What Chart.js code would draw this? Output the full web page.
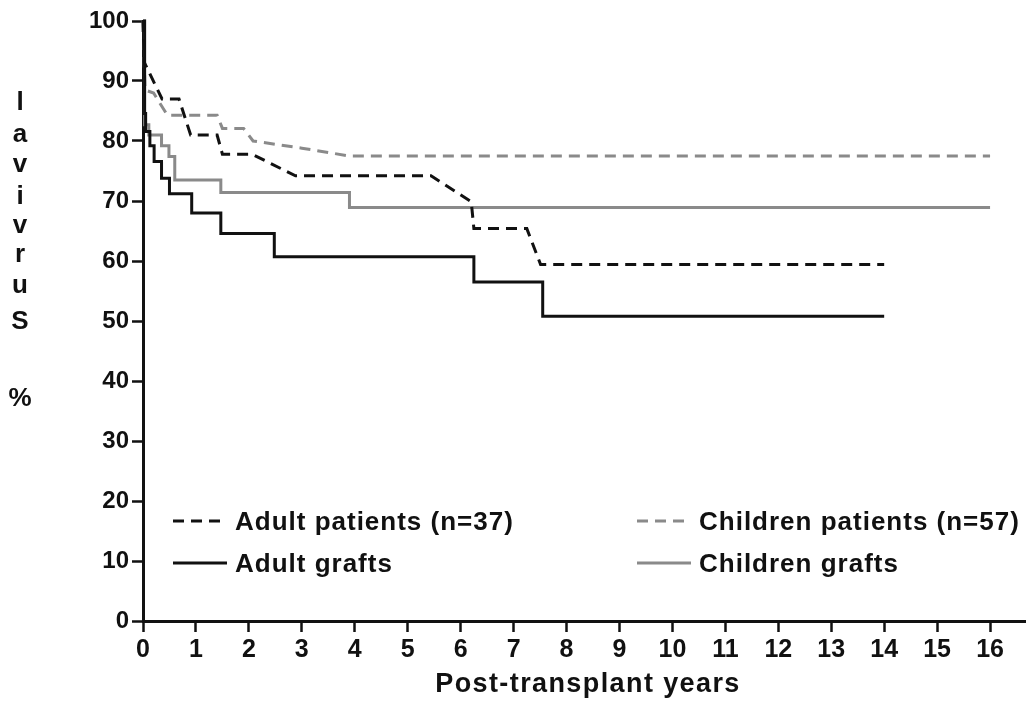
<!DOCTYPE html>
<html>
<head>
<meta charset="utf-8">
<script src="https://cdn.jsdelivr.net/npm/chart.js@4.4.1/dist/chart.umd.min.js"></script>
<style>
  html, body { margin: 0; padding: 0; background: #fff; }
  #wrap { width: 1029px; height: 715px; }
</style>
</head>
<body>
<div id="wrap"><canvas id="km"></canvas></div>
<script>
// Kaplan-Meier survival
var adultPatientsYears = [0, 0.02, 0.36, 0.68, 0.9, 1.4, 1.5, 2.06, 2.88, 5.44, 6.2, 6.25, 7.25, 7.51, 14.0];
var adultPatientsSurv  = [100, 93.2, 87, 87, 81, 81, 77.8, 77.8, 74.2, 74.2, 69.9, 65.4, 65.4, 59.4, 59.4];

var childPatientsYears = [0, 0.04, 0.2, 0.46, 1.4, 1.5, 1.9, 2.08, 3.0, 3.9, 16];
var childPatientsSurv  = [100, 88.5, 88, 84.3, 84.3, 82.1, 82.1, 80, 78.8, 77.5, 77.5];

var adultGraftsYears = [0, 0.03, 0.05, 0.13, 0.21, 0.35, 0.5, 0.92, 1.47, 2.48, 6.25, 7.55, 14.0];
var adultGraftsSurv  = [100, 84.6, 81.6, 79.2, 76.6, 73.8, 71.2, 68, 64.6, 60.7, 56.5, 50.8, 50.8];

var childGraftsYears = [0, 0.03, 0.11, 0.35, 0.49, 0.6, 1.47, 3.9, 16];
var childGraftsSurv  = [100, 82.7, 81, 79.2, 77.4, 73.5, 71.4, 68.9, 68.9];

var xTicks = [0, 1, 2, 3, 4, 5, 6, 7, 8, 9, 10, 11, 12, 13, 14, 15, 16];
var yTicks = [0, 10, 20, 30, 40, 50, 60, 70, 80, 90, 100];

var legendLabels = ["Adult patients (n=37)", "Children patients (n=57)", "Adult grafts", "Children grafts"];
var yTitleLetters = ["l", "a", "v", "i", "v", "r", "u", "S"];
var yTitleUnit = "%";
var xTitle = "Post-transplant years";

var BLACK = "#111111";
var GREY = "#8a8a8a";

function pts(xs, ys) {
    return xs.map(function (x, i) { return { x: x, y: ys[i] }; });
}

var FONT = "'Liberation Sans', Arial, sans-serif";

// legend, stacked y title and x title, drawn on the canvas
var decorations = {
    id: 'decorations',
    afterDraw: function (chart) {
        var ctx = chart.ctx;
        var a = chart.chartArea;
        ctx.save();
        ctx.fillStyle = BLACK;
        ctx.font = "bold 26px " + FONT;
        ctx.textBaseline = "alphabetic";

        // legend
        var items = [
            { label: legendLabels[0], color: BLACK, dash: [11, 7], x: 173, y: 521 },
            { label: legendLabels[1], color: GREY, dash: [11, 7], x: 637, y: 521 },
            { label: legendLabels[2], color: BLACK, dash: [], x: 173, y: 563 },
            { label: legendLabels[3], color: GREY, dash: [], x: 637, y: 563 }
        ];
        items.forEach(function (it) {
            ctx.save();
            ctx.strokeStyle = it.color;
            ctx.lineWidth = 3;
            ctx.setLineDash(it.dash);
            ctx.beginPath();
            ctx.moveTo(it.x, it.y);
            ctx.lineTo(it.x + 54, it.y);
            ctx.stroke();
            ctx.restore();
            ctx.letterSpacing = "1px";
            ctx.textAlign = "left";
            ctx.fillText(it.label, it.x + 62, it.y + 9);
        });

        // y title: upright letters stacked
        ctx.letterSpacing = "0px";
        ctx.textAlign = "center";
        var baselines = [110, 142, 172, 204, 233, 262, 293, 329];
        yTitleLetters.forEach(function (ch, i) {
            ctx.fillText(ch, 20, baselines[i]);
        });
        ctx.fillText(yTitleUnit, 20, 406);

        // x title
        ctx.font = "bold 27px " + FONT;
        ctx.letterSpacing = "1.4px";
        ctx.fillText(xTitle, (a.left + a.right) / 2 + 4, 692);
        ctx.restore();
    }
};

var ctx = document.getElementById("km").getContext('2d');
var myChart = new Chart(ctx, {
    type: 'line',
    data: {
        datasets: [{
            label: legendLabels[0],
            data: pts(adultPatientsYears, adultPatientsSurv),
            borderColor: BLACK,
            borderWidth: 3,
            borderDash: [11, 7],
            pointRadius: 0,
            clip: false
        }, {
            label: legendLabels[2],
            data: pts(adultGraftsYears, adultGraftsSurv),
            borderColor: BLACK,
            borderWidth: 3,
            stepped: true,
            pointRadius: 0,
            clip: false
        }, {
            label: legendLabels[1],
            data: pts(childPatientsYears, childPatientsSurv),
            borderColor: GREY,
            borderWidth: 3,
            borderDash: [11, 7],
            pointRadius: 0,
            clip: false
        }, {
            label: legendLabels[3],
            data: pts(childGraftsYears, childGraftsSurv),
            borderColor: GREY,
            borderWidth: 3,
            stepped: true,
            pointRadius: 0,
            clip: false
        }]
    },
    options: {
        responsive: true,
        maintainAspectRatio: false,
        animation: false,
        layout: { padding: { left: 0, right: 4, top: 21, bottom: 0 } },
        plugins: {
            legend: { display: false },
            tooltip: { enabled: false }
        },
        scales: {
            x: {
                type: 'linear',
                min: 0,
                max: 16.66,
                afterBuildTicks: function (s) {
                    s.ticks = xTicks.map(function (v) { return { value: v }; });
                },
                afterFit: function (s) { s.height = 94; },
                border: { display: true, color: BLACK, width: 3 },
                grid: { display: true, drawOnChartArea: false, drawTicks: true, tickLength: 11, tickWidth: 2.5, tickColor: BLACK },
                ticks: {
                    color: BLACK,
                    padding: 3,
                    maxRotation: 0,
                    autoSkip: false,
                    font: { family: FONT, size: 25, weight: 'bold' }
                }
            },
            y: {
                min: 0,
                max: 100,
                afterBuildTicks: function (s) {
                    s.ticks = yTicks.map(function (v) { return { value: v }; });
                },
                afterFit: function (s) { s.width = 143; },
                border: { display: true, color: BLACK, width: 3 },
                grid: { display: true, drawOnChartArea: false, drawTicks: true, tickLength: 11, tickWidth: 2.5, tickColor: BLACK },
                ticks: {
                    color: BLACK,
                    padding: 3,
                    font: { family: FONT, size: 24, weight: 'bold' }
                }
            }
        }
    },
    plugins: [decorations]
});
</script>
</body>
</html>
